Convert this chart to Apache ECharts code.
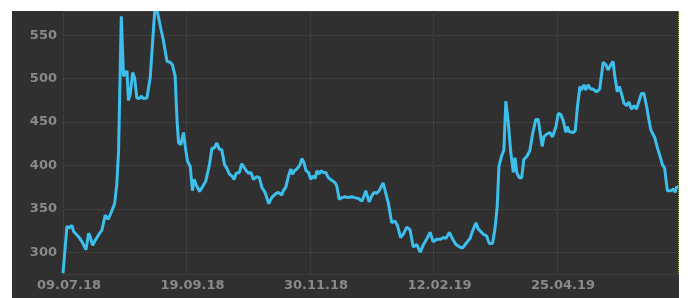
<!doctype html>
<html>
<head>
<meta charset="UTF-8">
<title>Price chart</title>
<style>
	body { margin: 0; background: #ffffff; }
	#chart { position: absolute; left: 12px; top: 11px; width: 667px; height: 287px; }
</style>
</head>
<body>
<div id="chart"></div>
<script src="https://cdn.jsdelivr.net/npm/echarts@6/dist/echarts.min.js"></script>
<script>
// trading day index (0 = 09.07.18) and close price
var tradingDay = [0, 1.6, 2.5, 3.6, 4.3, 5.0, 6.3, 7.7, 9.3, 10.4, 11.0, 12.0, 13.1, 14.4, 15.8, 17.1, 18.2, 19.1, 20.9, 21.8,
	22.5, 23.6, 24.5, 25.2, 25.9, 26.5, 27.2, 28.2, 29.0, 29.9, 30.9, 31.7, 32.6, 34.0, 35.3, 36.4, 37.3, 38.0, 39.8, 40.6,
	42.1, 43.4, 44.3, 45.4, 46.2, 46.8, 47.7, 48.8, 49.5, 50.4, 51.5, 52.4, 53.1, 53.9, 55.3, 56.6, 57.8, 59.3, 60.3, 61.2,
	62.3, 63.2, 64.3, 65.4, 66.3, 67.4, 68.4, 69.3, 70.1, 71.4, 72.4, 73.1, 74.2, 75.1, 76.1, 77.1, 78.5, 79.5, 80.5, 81.8,
	83.3, 84.5, 85.9, 87.2, 88.6, 89.2, 90.2, 91.3, 92.2, 92.9, 93.7, 94.7, 95.3, 96.0, 96.7, 97.6, 98.4, 99.4, 100.3, 101.1,
	102.1, 102.8, 103.7, 104.4, 105.4, 106.4, 107.4, 108.8, 110.2, 110.9, 111.8, 112.9, 114.2, 115.5, 116.9, 118.2, 119.6, 121.0, 121.9, 122.6,
	123.9, 125.2, 126.0, 127.0, 128.0, 129.6, 131.7, 133.1, 134.4, 135.4, 136.7, 137.8, 139.2, 140.5, 141.8, 143.2, 144.7, 145.8, 147.2, 148.6,
	149.9, 151.3, 152.9, 154.0, 155.1, 156.4, 157.8, 159.1, 160.7, 161.8, 163.4, 164.8, 165.9, 167.2, 168.1, 168.8, 170.1, 171.5, 172.6, 173.9,
	174.9, 175.8, 176.5, 177.6, 178.5, 179.3, 180.3, 181.2, 182.3, 183.0, 183.7, 184.7, 185.7, 186.6, 187.9, 189.0, 190.1, 191.4, 192.4, 193.4,
	194.0, 194.7, 195.8, 197.1, 198.2, 199.6, 200.5, 201.5, 202.5, 203.6, 204.1, 204.9, 206.5, 207.4, 208.3, 209.3, 209.9, 210.9, 211.7, 212.6,
	213.6, 214.6, 216.0, 217.3, 218.7, 219.8, 220.7, 221.8, 222.7, 223.4, 224.4, 225.2, 226.1, 227.1, 228.2, 229.1, 230.2, 231.2, 232.2, 233.2,
	234.2, 235.2, 236.3, 237.2, 238.0, 238.7, 239.6, 240.7, 241.6, 242.7, 243.6, 244.3, 244.7, 246.1, 247.1, 247.8, 248.5, 249.0];

var price = [276, 330, 328, 331, 324, 326, 318, 312, 303, 322, 318, 308, 314, 320, 326, 343, 338, 343, 356, 379,
	417, 572, 503, 505, 509, 475, 482, 507, 501, 478, 477, 480, 477, 478, 501, 547, 585, 580, 555, 545,
	520, 519, 516, 503, 450, 426, 424, 438, 422, 405, 399, 371, 384, 378, 370, 376, 382, 401, 420, 420,
	426, 419, 418, 401, 397, 390, 388, 384, 391, 392, 402, 403, 394, 391, 392, 384, 387, 386, 375, 369,
	356, 363, 367, 369, 366, 371, 375, 388, 396, 390, 394, 396, 394, 401, 408, 403, 394, 392, 384, 388,
	385, 394, 390, 394, 392, 392, 386, 383, 380, 376, 361, 363, 364, 363, 364, 363, 362, 359, 365, 371,
	358, 366, 369, 368, 371, 380, 357, 334, 336, 331, 317, 321, 329, 326, 306, 309, 300, 308, 315, 323,
	312, 315, 315, 317, 316, 323, 315, 309, 306, 305, 311, 316, 325, 334, 327, 325, 321, 319, 310, 310,
	327, 353, 399, 411, 418, 474, 449, 418, 392, 409, 392, 386, 386, 407, 411, 417, 436, 453, 453, 434,
	422, 433, 436, 438, 433, 445, 460, 459, 452, 438, 445, 439, 438, 440, 468, 491, 487, 493, 487, 493,
	488, 488, 485, 488, 519, 516, 510, 516, 520, 503, 485, 491, 483, 472, 469, 473, 465, 469, 465, 474,
	483, 483, 468, 453, 441, 443, 432, 420, 412, 401, 397, 380, 371, 371, 373, 369, 376, 374];

// date labels at every 50th trading day
var dateLabels = ['09.07.18', '19.09.18', '30.11.18', '12.02.19', '25.04.19'];

var seriesData = [];
for (var i = 0; i < tradingDay.length; i++) {
	seriesData.push([tradingDay[i], price[i]]);
}

var labelFont = {
	color: '#8a8a8a',
	fontFamily: 'DejaVu Sans',
	fontWeight: 'bold',
	fontSize: 13
};

var chart = echarts.init(document.getElementById('chart'));
chart.setOption({
	backgroundColor: '#303030',
	animation: false,
	grid: { left: 51, right: 1, top: 0, bottom: 24 },
	xAxis: {
		type: 'value',
		min: 0,
		max: 249,
		interval: 50,
		axisLine: { show: false },
		axisTick: { show: false },
		axisLabel: Object.assign({
			margin: 5,
			padding: [0, 0, 0, 12],
			showMaxLabel: false,
			formatter: function (v) {
				return v % 50 === 0 ? (dateLabels[v / 50] || '') : '';
			}
		}, labelFont),
		splitLine: { show: true, lineStyle: { color: '#4a4a4a', type: 'dotted', width: 1 } }
	},
	yAxis: {
		type: 'value',
		min: 275,
		max: 578,
		splitNumber: 6,
		axisLine: { show: false },
		axisTick: { show: false },
		axisLabel: Object.assign({
			margin: 6,
			formatter: function (v) {
				return v % 50 === 0 ? String(v) : '';
			}
		}, labelFont),
		splitLine: { show: true, lineStyle: { color: '#4a4a4a', type: 'dotted', width: 1 } }
	},
	series: [{
		type: 'line',
		data: seriesData,
		symbol: 'none',
		lineStyle: { color: '#3dbfed', width: 3 },
		markLine: {
			silent: true,
			symbol: 'none',
			label: { show: false },
			lineStyle: { color: '#8fae2a', type: 'dotted', width: 1 },
			data: [{ xAxis: 249 }]
		}
	}]
});
</script>
</body>
</html>
